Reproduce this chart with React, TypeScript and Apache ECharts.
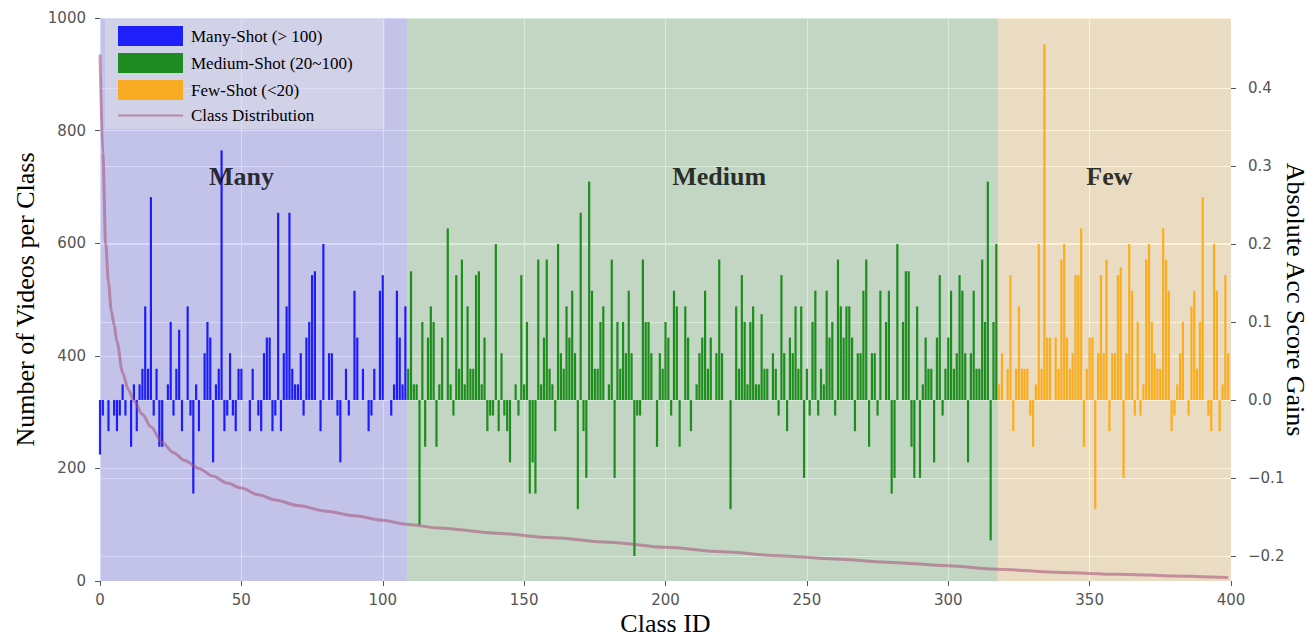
import React, { useEffect, useRef } from 'react';
import * as echarts from 'echarts';

// ---- data ----
const manyStart = 0;
const mediumStart = 109;
const fewStart = 318;

const manyGains = [
  -0.07, -0.02, 0, -0.04, 0, -0.02, -0.04, -0.02, 0.02, -0.02,
  0, -0.06, 0.02, -0.04, 0.02, 0.04, 0.12, 0.04, 0.26, -0.02,
  0.04, -0.06, -0.06, 0, 0.02, 0.10, -0.02, 0.04, 0.09, -0.04,
  0, 0.12, -0.02, -0.12, 0.02, -0.04, 0, 0.06, 0.10, 0.08,
  -0.08, 0.02, 0.04, 0.32, -0.04, -0.02, 0.06, -0.02, -0.04, 0.04,
  0.04, 0, 0, -0.04, 0.04, 0, -0.02, -0.04, 0.06, 0.08,
  0.08, -0.04, -0.02, 0.24, -0.04, 0.06, 0.12, 0.24, 0.04, 0.02,
  0.02, 0.06, -0.02, 0.08, 0.10, 0.16, 0.165, 0, -0.04, 0.20,
  0, 0.06, 0.06, 0, -0.02, -0.08, 0, 0.04, -0.02, 0,
  0.14, 0.08, 0, 0.04, 0, -0.04, -0.02, 0.04, 0, 0.14,
  0.16, 0, 0, -0.02, 0.02, 0.14, 0.08, 0.02, 0.12,
];

const mediumGains = [
  0.04, 0.165, 0.02, 0.02, -0.16, 0.10, -0.06, 0.08, 0.12, 0.10, // 109-118
  -0.06, 0.02, 0.08, 0, 0.22, 0.02, -0.02, 0.16, 0.04, 0.18, // 119-128
  0.02, 0.12, 0.04, 0.04, 0.16, 0.165, 0.02, 0.08, -0.04, -0.02, // 129-138
  -0.02, 0.20, -0.04, 0.06, -0.02, -0.04, -0.08, 0, 0.02, -0.02, // 139-148
  0.16, 0.02, 0.10, -0.12, -0.08, -0.12, 0.18, 0.02, 0.08, 0.18, // 149-158
  0.04, 0.02, -0.04, 0.20, 0.06, 0.04, 0.12, 0.08, 0.14, 0.06, // 159-168
  -0.14, 0.24, -0.04, -0.10, 0.28, 0.14, 0.04, 0.04, 0.10, 0.12, // 169-178
  0, 0.02, 0.18, -0.10, 0.10, 0.04, 0.10, 0.06, 0.14, 0.06, // 179-188
  -0.20, -0.02, -0.02, 0.18, 0.10, 0.10, 0.06, 0, -0.06, 0.06, // 189-198
  0.04, 0.10, 0.08, -0.02, 0.14, 0.12, -0.06, 0, 0.12, 0.08, // 199-208
  -0.04, 0, 0.02, 0.06, 0.08, 0.14, 0.04, 0.08, 0, 0.06, // 209-218
  0.18, 0.06, 0, 0, -0.14, 0, 0.12, 0.04, 0.16, 0.10, // 219-228
  0.02, 0.10, 0.12, 0.02, 0.02, 0.11, 0.04, 0.04, 0, 0.06, // 229-238
  0.04, -0.02, 0.16, 0.06, -0.04, 0.08, 0.06, 0.12, 0.04, 0.12, // 239-248
  -0.10, 0.04, -0.02, 0.10, 0.14, -0.02, 0.04, 0.02, 0.14, 0.08, // 249-258
  0.10, -0.02, 0.18, 0.12, 0.08, 0.12, 0.12, 0.08, -0.04, 0.06, // 259-268
  0.06, 0.14, 0.18, -0.06, 0.06, 0.06, -0.02, 0.14, 0, 0.10, // 269-278
  0.14, -0.12, -0.10, 0.20, 0, 0.10, 0.165, 0.165, -0.06, -0.10, // 279-288
  0.12, -0.10, 0.02, 0.08, 0.04, 0.04, -0.08, 0.08, 0.16, -0.02, // 289-298
  0.04, 0.08, 0.14, 0.04, 0.06, 0.16, 0.14, 0.06, -0.08, 0.06, // 299-308
  0.14, 0.04, 0.04, 0.18, 0.10, 0.28, -0.18, 0.10, 0.20, // 309-317
];

const fewGains = [
  0.02, 0.06, 0, 0.04, 0.16, -0.04, 0.04, 0.12, 0.04, 0.04, // 318-327
  0.04, -0.02, -0.06, 0.02, 0.20, 0.04, 0.456, 0.08, 0.08, 0, // 328-337
  0.08, 0.04, 0.18, 0.20, 0.08, 0.04, 0.06, 0.16, 0.16, 0.22, // 338-347
  -0.06, 0.04, 0.08, 0.08, -0.14, 0.06, 0.16, 0.06, 0.18, -0.04, // 348-357
  0.06, 0.06, 0.16, 0.17, -0.10, 0.06, 0.20, 0.14, -0.02, 0.10, // 358-367
  -0.02, 0.02, 0.18, 0.20, 0.10, 0.06, 0.04, 0.04, 0.22, 0.18, // 368-377
  0.14, -0.04, -0.02, 0.02, 0.06, 0.10, 0, -0.02, 0.12, 0.14, // 378-387
  0.04, 0.10, 0.26, 0, -0.02, -0.04, 0.20, 0.14, -0.04, 0.02, // 388-397
  0.16, 0.06, // 398-399
];

const distIds = [0, 1, 2, 3, 4, 5, 6, 8, 10, 12, 15, 18, 22, 26, 30, 35, 40, 45, 50, 56, 62, 70, 80, 90, 100, 108, 120, 140, 160, 180, 200, 220, 240, 260, 280, 300, 317, 340, 360, 380, 399];
const distCounts = [935, 760, 600, 530, 480, 455, 425, 370, 340, 320, 296, 274, 246, 228, 214, 200, 186, 174, 165, 153, 144, 134, 124, 116, 108, 101, 94, 85, 77, 69, 60, 52, 45, 39, 33, 27, 21, 15, 12, 9, 6];

const gainTicks = [-0.2, -0.1, 0, 0.1, 0.2, 0.3, 0.4];
const regionBounds = [0, 108.5, 317.5, 400];
const regionNames = ['Many', 'Medium', 'Few'];
const regionLabelX = [50, 219, 357];
const regionLabelY = 718;
const legendNames = ['Many-Shot (> 100)', 'Medium-Shot (20~100)', 'Few-Shot (<20)', 'Class Distribution'];

const barColors = ['rgba(0,0,255,0.85)', 'rgba(0,128,0,0.85)', 'rgba(255,165,0,0.85)'];
const regionColors = ['rgba(0,0,255,0.15)', 'rgba(0,128,0,0.15)', 'rgba(255,165,0,0.15)'];
const lineColor = 'rgba(165,80,120,0.55)';

const toPairs = (start: number, arr: number[]) => arr.map((v, i) => [start + i, v]);

const fmtGain = (v: number) => {
  const s = Math.abs(v).toFixed(1);
  return v < -1e-9 ? '\u2212' + s : s;
};

export default function App() {
  const ref = useRef<HTMLDivElement>(null);

  useEffect(() => {
    if (!ref.current) return;
    const chart = echarts.init(ref.current, null, { renderer: 'svg' });
    const tickFont = { color: '#555', fontSize: 15, fontFamily: 'DejaVu Sans' };
    const titleFont = { color: '#000', fontSize: 26, fontFamily: 'Liberation Serif' };
    const gridLine = { show: true, lineStyle: { color: '#ffffff', width: 1.2 } };
    const barBase = {
      type: 'bar',
      yAxisIndex: 1,
      barWidth: 2.2,
      barGap: '-100%',
      clip: true,
      z: 2,
    };
    const option: any = {
      animation: false,
      grid: {
        left: 100,
        top: 18,
        right: 82,
        bottom: 57,
        show: true,
        backgroundColor: '#E5E5E5',
        borderWidth: 0,
        outerBoundsMode: 'none',
      },
      legend: {
        orient: 'vertical',
        left: 105,
        top: 18,
        itemWidth: 65,
        itemHeight: 20,
        itemGap: 7,
        padding: [8, 32, 5, 12],
        backgroundColor: 'rgba(229,229,229,0.4)',
        textStyle: { color: '#000', fontSize: 17, fontFamily: 'Liberation Serif', padding: [0, 0, 0, 3] },
        data: [
          { name: legendNames[0], icon: 'rect' },
          { name: legendNames[1], icon: 'rect' },
          { name: legendNames[2], icon: 'rect' },
          { name: legendNames[3], itemStyle: { opacity: 0 } },
        ],
      },
      xAxis: {
        type: 'value',
        min: 0,
        max: 400,
        interval: 50,
        name: 'Class ID',
        nameLocation: 'middle',
        nameGap: 29,
        nameMoveOverlap: false,
        nameTextStyle: titleFont,
        axisLine: { show: false },
        axisTick: { show: true, length: 5, lineStyle: { color: '#555' } },
        axisLabel: { ...tickFont, margin: 11 },
        splitLine: gridLine,
      },
      yAxis: [
        {
          type: 'value',
          position: 'left',
          min: 0,
          max: 1000,
          interval: 200,
          name: 'Number of Videos per Class',
          nameLocation: 'middle',
          nameRotate: 90,
          nameGap: 62,
          nameMoveOverlap: false,
          nameTextStyle: titleFont,
          axisLine: { show: false },
          axisTick: { show: true, length: 5, lineStyle: { color: '#555' } },
          axisLabel: { ...tickFont, margin: 14, formatter: (v: number) => String(v) },
          splitLine: gridLine,
        },
        {
          type: 'value',
          position: 'right',
          min: -0.2321,
          max: 0.4897,
          name: 'Absolute Acc Score Gains',
          nameLocation: 'middle',
          nameRotate: -90,
          nameGap: 51,
          nameMoveOverlap: false,
          nameTextStyle: titleFont,
          axisLine: { show: false },
          axisTick: { show: true, length: 5, lineStyle: { color: '#555' }, customValues: gainTicks },
          axisLabel: { ...tickFont, margin: 17, customValues: gainTicks, formatter: fmtGain },
          splitLine: { show: false },
        },
      ],
      series: [
        {
          ...barBase,
          name: legendNames[0],
          itemStyle: { color: barColors[0] },
          data: toPairs(manyStart, manyGains),
          markArea: {
            silent: true,
            z: 1,
            data: regionColors.map((c, i) => [
              { xAxis: regionBounds[i], itemStyle: { color: c } },
              { xAxis: regionBounds[i + 1] },
            ]),
          },
          markLine: {
            silent: true,
            z: 0.5,
            symbol: 'none',
            label: { show: false },
            lineStyle: { color: '#ffffff', width: 1.2, type: 'solid' },
            emphasis: { disabled: true },
            data: gainTicks.map((v) => ({ yAxis: v })),
          },
        },
        {
          ...barBase,
          name: legendNames[1],
          itemStyle: { color: barColors[1] },
          data: toPairs(mediumStart, mediumGains),
        },
        {
          ...barBase,
          name: legendNames[2],
          itemStyle: { color: barColors[2] },
          data: toPairs(fewStart, fewGains),
        },
        {
          type: 'line',
          name: legendNames[3],
          yAxisIndex: 0,
          z: 3,
          symbol: 'none',
          smooth: 0.3,
          smoothMonotone: 'x',
          lineStyle: { color: lineColor, width: 3 },
          itemStyle: { color: lineColor },
          data: distIds.map((x, i) => [x, distCounts[i]]),
        },
        {
          type: 'scatter',
          name: 'regionLabels',
          yAxisIndex: 0,
          z: 4,
          symbolSize: 1,
          itemStyle: { color: 'rgba(0,0,0,0)' },
          label: {
            show: true,
            position: 'inside',
            formatter: (p: any) => p.data[2],
            color: '#000',
            fontSize: 26,
            fontWeight: 'bold',
            fontFamily: 'Liberation Serif',
          },
          data: regionNames.map((n, i) => [regionLabelX[i], regionLabelY, n]),
        },
      ],
    };
    chart.setOption(option);
    return () => chart.dispose();
  }, []);

  return (
    <div
      ref={ref}
      style={{ position: 'absolute', left: 0, top: 0, width: 1313, height: 638, background: '#fff' }}
    />
  );
}
